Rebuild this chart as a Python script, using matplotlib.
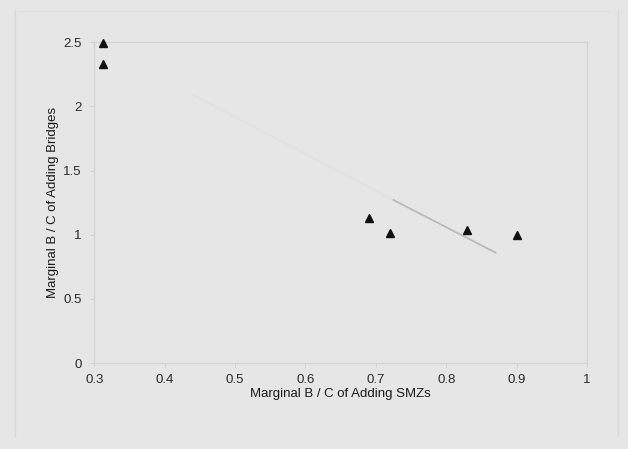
import matplotlib
matplotlib.use("Agg")
import matplotlib.pyplot as plt
from matplotlib.lines import Line2D

# data
smz_bc = [0.313, 0.313, 0.69, 0.72, 0.83, 0.90]
bridge_bc = [2.49, 2.33, 1.13, 1.01, 1.04, 0.995]

# faded trend line (mostly lost in the scan)
trend_x = [0.44, 0.725, 0.87]
trend_y = [2.09, 1.27, 0.86]

x_ticks = [0.3, 0.4, 0.5, 0.6, 0.7, 0.8, 0.9, 1.0]
y_ticks = [0, 0.5, 1, 1.5, 2, 2.5]

bg = '#e6e6e6'
plt.rcParams['font.family'] = ['Liberation Sans', 'DejaVu Sans']

fig = plt.figure(figsize=(6.28, 4.49), dpi=100)
fig.patch.set_facecolor(bg)
ax = fig.add_axes([0.150, 0.1915, 0.785, 0.7145])
ax.set_facecolor(bg)

ax.plot(trend_x[:2], trend_y[:2], color='#e2e2e2', lw=1.2, zorder=1)
ax.plot(trend_x[1:], trend_y[1:], color='#bababa', lw=1.3, zorder=1)
ax.plot(smz_bc, bridge_bc, linestyle='none', marker='^', markersize=5.5,
        color='#111111', zorder=3, clip_on=False)

ax.set_xlim(0.3, 1.0)
ax.set_ylim(0, 2.5)
ax.set_xticks(x_ticks)
ax.set_yticks(y_ticks)
ax.set_xticklabels(['%g' % v for v in x_ticks])
ax.set_yticklabels(['%g' % v for v in y_ticks])
ax.tick_params(axis='both', length=3, width=0.6, color='#cccccc',
               labelsize=9.5, labelcolor='#2a2a2a')
ax.tick_params(axis='x', pad=5)
ax.tick_params(axis='y', pad=6)

for side in ['left', 'bottom', 'top', 'right']:
    ax.spines[side].set_color('#d4d4d4')
    ax.spines[side].set_linewidth(0.9)

ax.set_xlabel('Marginal B / C of Adding SMZs', fontsize=9.5, color='#1a1a1a',
              labelpad=1)
ax.set_ylabel('Marginal B / C of Adding Bridges', fontsize=9.5,
              color='#1a1a1a', labelpad=3)

# faint outer chart-area border from the scan
fig.add_artist(Line2D([15 / 628, 15 / 628], [0.03, 0.98],
                      transform=fig.transFigure, color='#d8d8d8', lw=1))
fig.add_artist(Line2D([618 / 628, 618 / 628], [0.03, 0.98],
                      transform=fig.transFigure, color='#d8d8d8', lw=1))
fig.add_artist(Line2D([0.03, 0.97], [0.975, 0.975],
                      transform=fig.transFigure, color='#dedede', lw=1))

fig.savefig('out.png', dpi=100, facecolor=bg)
